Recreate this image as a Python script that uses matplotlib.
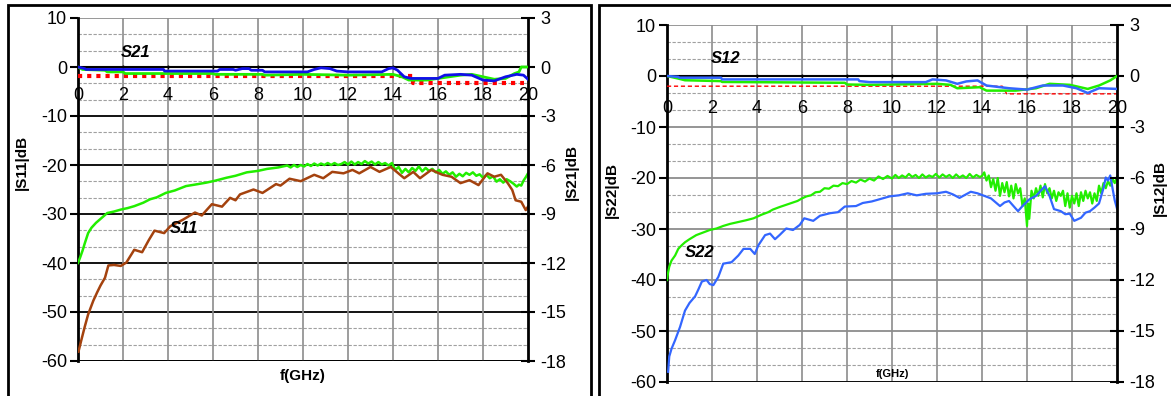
import numpy as np
import matplotlib
matplotlib.use("Agg")
import matplotlib.pyplot as plt
from matplotlib.patches import Rectangle

plt.rcParams["font.family"] = ["Liberation Sans", "DejaVu Sans"]
plt.rcParams["axes.unicode_minus"] = False

W, H = 1171, 396

# --- Left panel data (S11 on left axis, S21 on right axis) ---
s11_brown_f = [0.02, 0.15, 0.3, 0.45, 0.68, 0.85, 1.0, 1.2, 1.35, 1.6, 1.9, 2.15, 2.5, 2.85,
               3.15, 3.4, 3.83, 4.1, 4.65, 5.2, 5.5, 5.95, 6.4, 6.76, 7.0, 7.2, 7.8, 8.2,
               8.8, 9.0, 9.4, 9.9, 10.5, 10.9, 11.3, 11.8, 12.2, 12.5, 13.0, 13.4, 13.9,
               14.5, 14.9, 15.2, 15.7, 16.2, 16.6, 17.0, 17.4, 17.8, 18.2, 18.5, 18.8,
               19.1, 19.3, 19.45, 19.7, 19.9, 20.0]
s11_brown_db = [-58.1, -55.7, -53.0, -50.5, -47.7, -46.0, -44.6, -43.0, -40.5, -40.4, -40.6,
                -39.9, -37.3, -37.8, -35.3, -33.4, -33.9, -32.5, -31.2, -29.7, -30.3, -28.0,
                -28.5, -26.7, -27.2, -26.0, -25.0, -25.7, -23.9, -24.2, -22.8, -23.3, -22.0,
                -22.7, -21.4, -21.7, -21.0, -21.7, -20.4, -21.4, -20.4, -22.7, -21.4, -22.7,
                -21.0, -22.0, -22.4, -23.7, -23.1, -24.1, -21.7, -22.4, -22.0, -23.7, -25.1,
                -27.2, -27.5, -29.2, -28.5]

s11_green_f = [0.0, 0.1, 0.2, 0.3, 0.45, 0.6, 0.8, 1.0, 1.3, 1.6, 1.9, 2.2, 2.5, 2.9, 3.2,
               3.5, 3.9, 4.3, 4.8, 5.2, 5.7, 6.1, 6.6, 7.0, 7.5, 8.0, 8.4, 8.9,
               9.3, 9.45, 9.6, 9.75, 9.9, 10.05, 10.2, 10.35, 10.5, 10.65, 10.8, 10.95,
               11.1, 11.25, 11.4, 11.55, 11.7, 11.85, 12.0, 12.15, 12.3, 12.45, 12.6, 12.75,
               12.9, 13.05, 13.2, 13.35, 13.5, 13.65, 13.8, 13.95, 14.1, 14.25, 14.4, 14.55,
               14.7, 14.85, 15.0, 15.15, 15.3, 15.45, 15.6, 15.75, 15.9, 16.05, 16.2, 16.35,
               16.5, 16.65, 16.8, 16.95, 17.1, 17.25, 17.4, 17.55, 17.7, 17.85, 18.0, 18.15,
               18.3, 18.45, 18.6, 18.75, 18.9, 19.05, 19.2, 19.35, 19.5, 19.6, 19.7, 19.8,
               19.9, 20.0]
s11_green_db = [-40.0, -38.8, -37.5, -36.0, -33.9, -32.8, -31.8, -31.0, -29.8, -29.5, -29.1,
                -28.8, -28.4, -27.7, -27.0, -26.6, -25.7, -25.2, -24.3, -24.0, -23.6, -23.2,
                -22.6, -22.2, -21.5, -21.2, -20.8, -20.5,
                -20.1, -20.5, -20.0, -20.4, -20.0, -20.3, -19.8, -20.2, -19.7, -20.1, -19.7,
                -20.0, -19.6, -20.0, -19.6, -20.0, -19.8, -19.4, -19.9, -19.3, -19.9, -19.4,
                -19.8, -19.2, -19.7, -19.3, -19.9, -19.4, -19.9, -19.6, -20.1, -19.6, -21.0,
                -20.4, -21.6, -20.8, -21.5, -20.6, -21.2, -20.3, -21.3, -20.6, -21.2, -20.8,
                -21.5, -21.0, -21.8, -21.3, -22.0, -21.5, -22.4, -21.8, -22.3, -21.6, -22.0,
                -21.5, -22.2, -21.9, -22.6, -22.0, -22.7, -22.3, -23.4, -22.9, -23.6, -22.9,
                -23.3, -23.8, -24.4, -24.0, -24.2, -23.2, -22.5, -21.7]

s21_blue_f = [0.0, 0.3, 0.35, 3.8, 3.85, 6.2, 6.3, 6.9, 7.0, 7.3, 7.6, 7.7, 8.2, 8.3, 10.2,
              10.5, 10.8, 11.2, 11.5, 12.0, 13.5, 13.8, 14.0, 14.2, 14.5, 14.8, 16.0, 16.3,
              17.0, 17.5, 18.0, 18.5, 19.0, 19.5, 19.8, 20.0]
s21_blue_db = [0.0, -0.1, -0.15, -0.15, -0.25, -0.25, -0.15, -0.15, -0.2, -0.1, -0.1, -0.2,
               -0.2, -0.3, -0.3, -0.15, -0.05, -0.1, -0.25, -0.3, -0.3, -0.1, -0.05, -0.2,
               -0.6, -0.7, -0.7, -0.5, -0.45, -0.5, -0.8, -0.85, -0.6, -0.45, -0.5, -0.75]

s21_green_f = [0.0, 0.2, 1.2, 1.3, 2.0, 2.1, 6.0, 6.1, 8.2, 8.3, 10.0, 12.0, 14.0, 14.4,
               14.7, 15.5, 16.0, 16.5, 17.0, 17.5, 18.0, 18.5, 19.0, 19.4, 19.6, 19.7, 20.0]
s21_green_db = [0.0, -0.15, -0.2, -0.3, -0.3, -0.4, -0.4, -0.45, -0.45, -0.5, -0.45, -0.5,
                -0.45, -0.6, -0.8, -0.8, -0.7, -0.6, -0.5, -0.45, -0.6, -0.75, -0.7, -0.4,
                -0.3, 0.0, 0.0]

s21_spec_f = [0.0, 14.9, 14.9, 19.8]
s21_spec_db = [-0.55, -0.55, -1.0, -1.0]

# --- Right panel data (S22 on left axis, S12 on right axis) ---
s22_blue_f = [0.05, 0.1, 0.2, 0.36, 0.58, 0.8, 1.0, 1.25, 1.4, 1.55, 1.76, 1.9, 2.06, 2.28,
              2.5, 2.87, 3.17, 3.4, 3.7, 3.9, 4.06, 4.36, 4.58, 4.8, 5.0, 5.3, 5.6, 5.9, 6.1,
              6.5, 6.8, 7.25, 7.6, 7.9, 8.4, 8.7, 9.1, 9.5, 9.9, 10.3, 10.7, 11.1, 11.5, 12.0,
              12.4, 12.7, 13.0, 13.5, 13.8, 14.1, 14.4, 14.8, 15.0, 15.2, 15.4, 15.6, 15.8,
              16.1, 16.4, 16.8, 17.0, 17.2, 17.5, 17.7, 17.9, 18.1, 18.4, 18.6, 18.8, 19.0,
              19.2, 19.4, 19.5, 19.6, 19.7, 19.8, 19.9, 20.0]
s22_blue_db = [-58.0, -55.0, -53.5, -51.8, -49.2, -46.0, -44.5, -43.2, -41.8, -40.3, -40.0,
               -40.8, -41.0, -39.4, -36.8, -36.5, -35.2, -33.9, -33.9, -34.9, -33.2, -31.2,
               -30.9, -32.0, -31.2, -29.9, -30.2, -29.2, -27.9, -28.4, -27.4, -26.9, -26.7,
               -25.6, -25.5, -24.9, -24.6, -24.1, -23.6, -23.4, -23.0, -23.4, -23.1, -23.0,
               -22.7, -23.2, -23.9, -22.7, -23.0, -23.5, -24.0, -25.5, -24.8, -24.5, -25.5,
               -26.5, -25.5, -24.2, -23.5, -21.6, -23.5, -26.1, -26.5, -27.1, -27.0, -28.4,
               -27.8, -26.8, -26.5, -25.8, -25.0, -22.0, -19.9, -20.5, -19.5, -22.0, -24.4,
               -26.0]

s22_green_f = [0.0, 0.05, 0.1, 0.2, 0.36, 0.5, 0.65, 0.8, 1.0, 1.3, 1.6, 1.9, 2.2, 2.5, 2.8,
               3.1, 3.5, 3.85, 4.2, 4.5, 4.7, 5.0, 5.4,
               5.8, 6.0, 6.2, 6.4, 6.6, 6.8, 7.0, 7.2, 7.4, 7.6, 7.8, 8.0, 8.2, 8.4, 8.6,
               8.8, 9.0, 9.2, 9.4, 9.6, 9.8, 10.0, 10.15, 10.3, 10.45, 10.6, 10.75, 10.9,
               11.05, 11.2, 11.35, 11.5, 11.65, 11.8, 11.95, 12.1, 12.25, 12.4, 12.55, 12.7,
               12.85, 13.0, 13.15, 13.3, 13.45, 13.6, 13.75, 13.9,
               14.0, 14.1, 14.2, 14.3, 14.4, 14.5, 14.6, 14.7, 14.8, 14.9, 15.0, 15.1,
               15.2, 15.3, 15.4, 15.5, 15.6, 15.7, 15.8, 15.9, 16.0, 16.05, 16.1, 16.2,
               16.3, 16.4, 16.5, 16.6, 16.7, 16.8, 16.9, 17.0, 17.1, 17.2, 17.3, 17.4, 17.5,
               17.6, 17.7, 17.8, 17.9, 18.0, 18.1, 18.2, 18.3, 18.4, 18.5, 18.6, 18.7, 18.8,
               18.9, 19.0, 19.1, 19.2, 19.3, 19.4, 19.5, 19.6, 19.7, 19.8, 19.9, 20.0]
s22_green_db = [-40.0, -38.5, -37.4, -36.2, -35.2, -33.9, -33.2, -32.6, -32.0, -31.2, -30.7,
                -30.2, -29.9, -29.4, -29.0, -28.7, -28.3, -27.9, -27.2, -26.7, -26.2, -25.7,
                -25.1,
                -24.5, -24.0, -23.6, -23.4, -22.8, -22.7, -22.0, -22.1, -21.5, -21.6, -21.0,
                -21.2, -20.6, -20.9, -20.3, -20.7, -20.1, -20.5, -19.7, -20.2, -19.6, -20.1,
                -19.4, -20.0, -19.5, -19.9, -19.2, -19.8, -19.4, -20.0, -19.3, -19.9, -19.5,
                -19.8, -19.2, -19.9, -19.3, -19.8, -19.4, -20.0, -19.3, -19.9, -19.5, -20.0,
                -19.2, -19.9, -19.4, -19.8,
                -19.6, -18.9, -20.5, -19.5, -21.8, -20.2, -22.5, -20.0, -23.5, -21.0, -22.8,
                -20.8, -23.6, -21.5, -24.0, -21.2, -23.0, -22.0, -25.5, -24.0, -29.4, -25.0,
                -28.0, -22.5, -24.0, -22.0, -23.5, -21.5, -23.8, -21.2, -23.0, -22.0, -24.0,
                -22.5, -24.5, -22.8, -23.5, -22.5, -25.5, -23.0, -25.8, -23.5, -25.0, -23.0,
                -25.5, -22.8, -24.5, -22.5, -24.0, -22.8, -25.0, -23.0, -24.5, -21.5, -23.0,
                -21.0, -22.0, -20.6, -21.5, -20.2, -21.0, -19.8]

s12_blue_f = [0.0, 0.5, 0.55, 2.4, 2.45, 8.5, 8.55, 9.0, 11.5, 11.8, 12.4, 12.9, 13.3, 13.8,
              14.2, 15.2, 16.0, 16.7, 17.6, 18.2, 18.7, 19.2, 20.0]
s12_blue_db = [0.0, -0.05, -0.1, -0.1, -0.2, -0.2, -0.3, -0.36, -0.36, -0.2, -0.26, -0.46,
               -0.32, -0.26, -0.56, -0.72, -0.8, -0.56, -0.56, -0.72, -1.0, -0.72, -0.76]

s12_green_f = [0.0, 0.5, 0.8, 2.4, 2.45, 7.9, 8.0, 9.0, 12.0, 12.6, 12.9, 13.9, 14.2, 15.5,
               16.4, 17.0, 17.9, 18.7, 19.2, 19.7, 20.0]
s12_green_db = [0.0, -0.15, -0.25, -0.3, -0.35, -0.4, -0.5, -0.52, -0.46, -0.52, -0.72,
                -0.66, -0.86, -0.86, -0.72, -0.46, -0.52, -0.76, -0.56, -0.26, 0.0]

s12_spec_f = [0.0, 14.9, 15.1, 20.0]
s12_spec_db = [-0.6, -0.6, -1.05, -1.05]

f_ticks = list(range(0, 21, 2))
left_ticks = [10, 0, -10, -20, -30, -40, -50, -60]
right_ticks = [3, 0, -3, -6, -9, -12, -15, -18]


def fig_rect(x0, y0, x1, y1):
    """Pixel box (top-left origin) to figure fraction rect."""
    return [x0 / W, 1 - y1 / H, (x1 - x0) / W, (y1 - y0) / H]


def setup_panel(ax, major_color, tick_size, xpad):
    ax.set_xlim(0, 20)
    ax.set_ylim(-60, 10)
    ax.set_xticks(f_ticks)
    ax.set_yticks(left_ticks)
    # minor dashed grid, two lines between each pair of majors
    for top in left_ticks[:-1]:
        for k in (1, 2):
            ax.axhline(top - k * 10 / 3, color="#a0a0a0", lw=0.8, ls=(0, (3, 1.5)), zorder=0.5)
    for v in left_ticks:
        c = "#909090" if v == 10 else major_color
        ax.axhline(v, color=c, lw=1.3, zorder=0.6)
    for f in f_ticks[1:-1]:
        ax.axvline(f, color="#8c8c8c", lw=1.2, zorder=0.6)
    ax.axhline(-60, color="black", lw=2, zorder=0.7)
    ax.spines["top"].set_visible(False)
    ax.spines["right"].set_visible(False)
    ax.spines["left"].set_linewidth(2)
    ax.spines["bottom"].set_position(("data", 0))
    ax.spines["bottom"].set_linewidth(1.5)
    ax.tick_params(axis="y", direction="out", length=6, width=1.5, pad=2, labelsize=tick_size)
    ax.tick_params(axis="x", direction="inout", length=3, width=1, pad=xpad, labelsize=tick_size)


def setup_twin(tw, tick_size):
    tw.set_ylim(-18, 3)
    tw.set_yticks(right_ticks)
    for s in ["top", "left", "bottom"]:
        tw.spines[s].set_visible(False)
    tw.spines["right"].set_linewidth(2)
    tw.tick_params(axis="y", direction="inout", length=10, width=1.5, pad=4, labelsize=tick_size)


fig = plt.figure(figsize=(W / 100, H / 100), dpi=100)

# outer boxes
fig.add_artist(Rectangle((8 / W, -0.05), (591 - 8) / W, 1.05 - 5 / H, transform=fig.transFigure,
                         fill=False, ec="black", lw=2))
fig.add_artist(Rectangle((599 / W, -0.05), (1180 - 599) / W, 1.05 - 5 / H, transform=fig.transFigure,
                         fill=False, ec="black", lw=2))

# ---------------- left panel ----------------
ax1 = fig.add_axes(fig_rect(78, 18, 528, 361))
setup_panel(ax1, "black", 13, 13)
ax1.plot(s11_green_f, s11_green_db, color="#22ee00", lw=1.8, zorder=3)
ax1.plot(s11_brown_f, s11_brown_db, color="#a4420e", lw=1.8, zorder=3)
ax1.text(2.55, 2.9, "S21", fontsize=12, fontweight="bold", style="italic", ha="center", va="center")
ax1.text(4.7, -32.9, "S11", fontsize=12, fontweight="bold", style="italic", ha="center", va="center")
ax1.text(0.5, -0.045, "f(GHz)", transform=ax1.transAxes, fontsize=11, fontweight="bold",
         ha="center", va="center")
fig.text(22 / W, 1 - 162 / H, "|S11|dB", rotation=90, fontsize=11, fontweight="bold",
         ha="center", va="center")
fig.text(572 / W, 1 - 172 / H, "|S21|dB", rotation=90, fontsize=11, fontweight="bold",
         ha="center", va="center")

tw1 = ax1.twinx()
setup_twin(tw1, 13)
tw1.plot(s21_spec_f, s21_spec_db, color="#ff0000", lw=3, ls=(0, (1, 1.2)), zorder=2)
tw1.plot(s21_green_f, s21_green_db, color="#22ee00", lw=2, zorder=3)
tw1.plot(s21_blue_f, s21_blue_db, color="#1010e8", lw=2, zorder=4)

# ---------------- right panel ----------------
ax2 = fig.add_axes(fig_rect(667, 25, 1117, 382))
setup_panel(ax2, "#8c8c8c", 13, 15.5)
ax2.spines["bottom"].set_color("black")
ax2.plot(s22_green_f, s22_green_db, color="#22ee00", lw=1.6, zorder=3)
ax2.plot(s22_blue_f, s22_blue_db, color="#3366ff", lw=1.6, zorder=3)
ax2.text(2.6, 3.5, "S12", fontsize=12, fontweight="bold", style="italic", ha="center", va="center")
ax2.text(1.45, -34.7, "S22", fontsize=12, fontweight="bold", style="italic", ha="center", va="center")
ax2.text(10.0, -58.5, "f(GHz)", fontsize=8, fontweight="bold", ha="center", va="center")
fig.text(612 / W, 1 - 190 / H, "|S22|dB", rotation=90, fontsize=11, fontweight="bold",
         ha="center", va="center")
fig.text(1160 / W, 1 - 188 / H, "|S12|dB", rotation=90, fontsize=11, fontweight="bold",
         ha="center", va="center")

tw2 = ax2.twinx()
setup_twin(tw2, 13)
tw2.plot(s12_spec_f, s12_spec_db, color="#ff0000", lw=1, ls=(0, (3, 2)), zorder=2)
tw2.plot(s12_green_f, s12_green_db, color="#22ee00", lw=1.8, zorder=3)
tw2.plot(s12_blue_f, s12_blue_db, color="#3366ff", lw=1.8, zorder=4)

fig.savefig("out.png", dpi=100)
